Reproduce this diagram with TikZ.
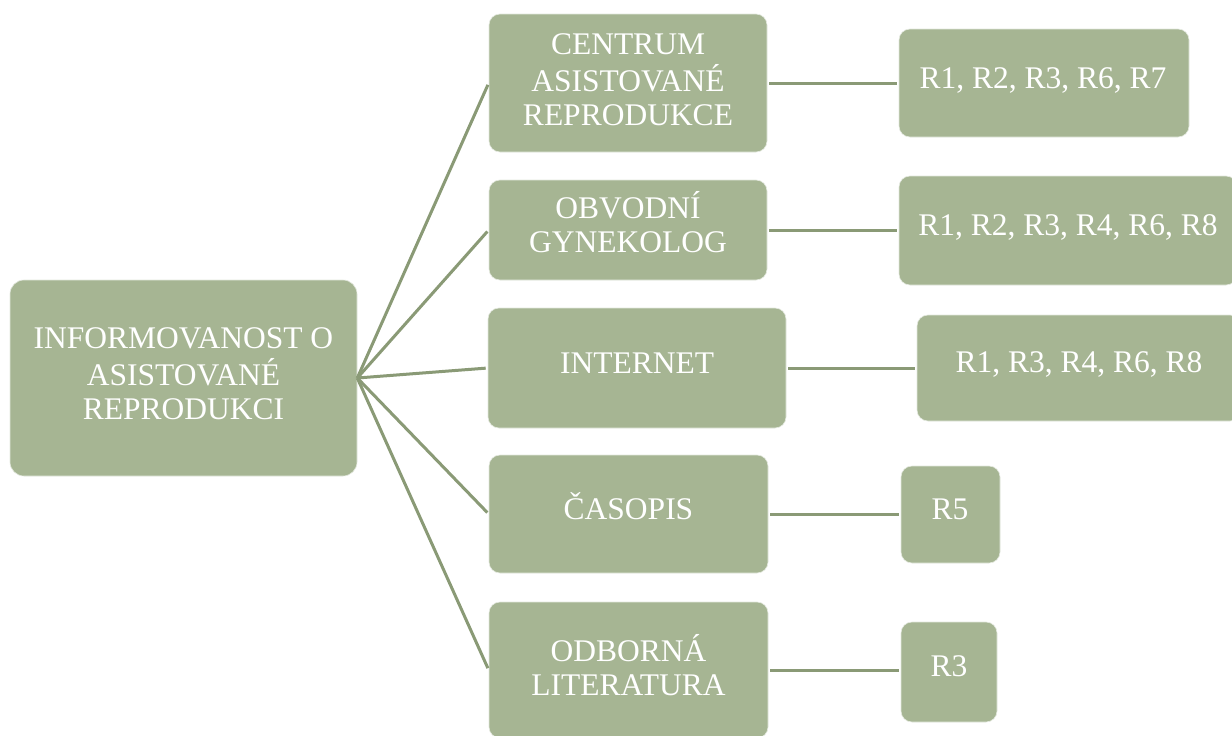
\documentclass[tikz,border=0pt]{standalone}
\usepackage{fontspec}
\setmainfont{Liberation Serif}
\definecolor{boxfill}{RGB}{166,181,147}
\definecolor{linkcol}{RGB}{138,154,118}
\newcommand{\mlines}[1]{\begin{tabular}[t]{@{}c@{}}#1\end{tabular}}
\begin{document}
\begin{tikzpicture}[x=1pt,y=-1pt,
  box/.style={fill=boxfill, draw=white!70!boxfill, line width=0.6pt, rounded corners=11pt, inner sep=0pt},
  txt/.style={text=white, font=\fontsize{31.5}{34}\selectfont, inner sep=0pt, anchor=base},
  link/.style={draw=linkcol, line width=3pt, shorten >=2pt}]
\fill[white] (0,0) rectangle (1232,736);
\useasboundingbox (0,0) rectangle (1232,736);
% root
\node[box, rounded corners=14pt, minimum width=347pt, minimum height=196pt] (root) at (183.5,378) {};
\node[txt] (roott) at (183.5,348) {\mlines{INFORMOVANOST O\\ASISTOVANÉ\\REPRODUKCI}};
% middle column
\node[box, minimum width=278pt, minimum height=138pt] (cen) at (628,83) {};
\node[txt] (cent) at (628,54) {\mlines{CENTRUM\\ASISTOVANÉ\\REPRODUKCE}};
\node[box, minimum width=278pt, minimum height=100pt] (obv) at (628,230) {};
\node[txt] (obvt) at (628,218) {\mlines{OBVODNÍ\\GYNEKOLOG}};
\node[box, minimum width=298pt, minimum height=120pt] (int) at (637,368) {};
\node[txt] (intt) at (637,373) {INTERNET};
\node[box, minimum width=279pt, minimum height=118pt] (cas) at (628.5,514) {};
\node[txt] (cast) at (628.5,519) {ČASOPIS};
\node[box, minimum width=279pt, minimum height=136pt] (odb) at (628.5,670) {};
\node[txt] (odbt) at (628.5,661) {\mlines{ODBORNÁ\\LITERATURA}};
% right column
\node[box, minimum width=290pt, minimum height=108pt] (ra) at (1044,83) {};
\node[txt] (rat) at (1043,88) {R1, R2, R3, R6, R7};
\node[box, minimum width=338pt, minimum height=109pt] (rb) at (1068,230.5) {};
\node[txt] (rbt) at (1068,235) {R1, R2, R3, R4, R6, R8};
\node[box, minimum width=324pt, minimum height=106pt] (rc) at (1079,368) {};
\node[txt] (rct) at (1079,372) {R1, R3, R4, R6, R8};
\node[box, minimum width=99pt, minimum height=97pt] (rd) at (950.5,514.5) {};
\node[txt] (rdt) at (950,519) {R5};
\node[box, minimum width=96pt, minimum height=100pt] (re) at (949,672) {};
\node[txt] (ret) at (949,676) {R3};
% connectors
\draw[link] (root.east) -- (cen.west);
\draw[link] (root.east) -- (obv.west);
\draw[link] (root.east) -- (int.west);
\draw[link] (root.east) -- (cas.west);
\draw[link] (root.east) -- (odb.west);
\draw[link, shorten <=2pt] (cen.east) -- (cen.east -| ra.west);
\draw[link, shorten <=2pt] (obv.east) -- (obv.east -| rb.west);
\draw[link, shorten <=2pt] (int.east) -- (int.east -| rc.west);
\draw[link, shorten <=2pt] (cas.east) -- (cas.east -| rd.west);
\draw[link, shorten <=2pt] (odb.east) -- (odb.east -| re.west);
\end{tikzpicture}
\end{document}
